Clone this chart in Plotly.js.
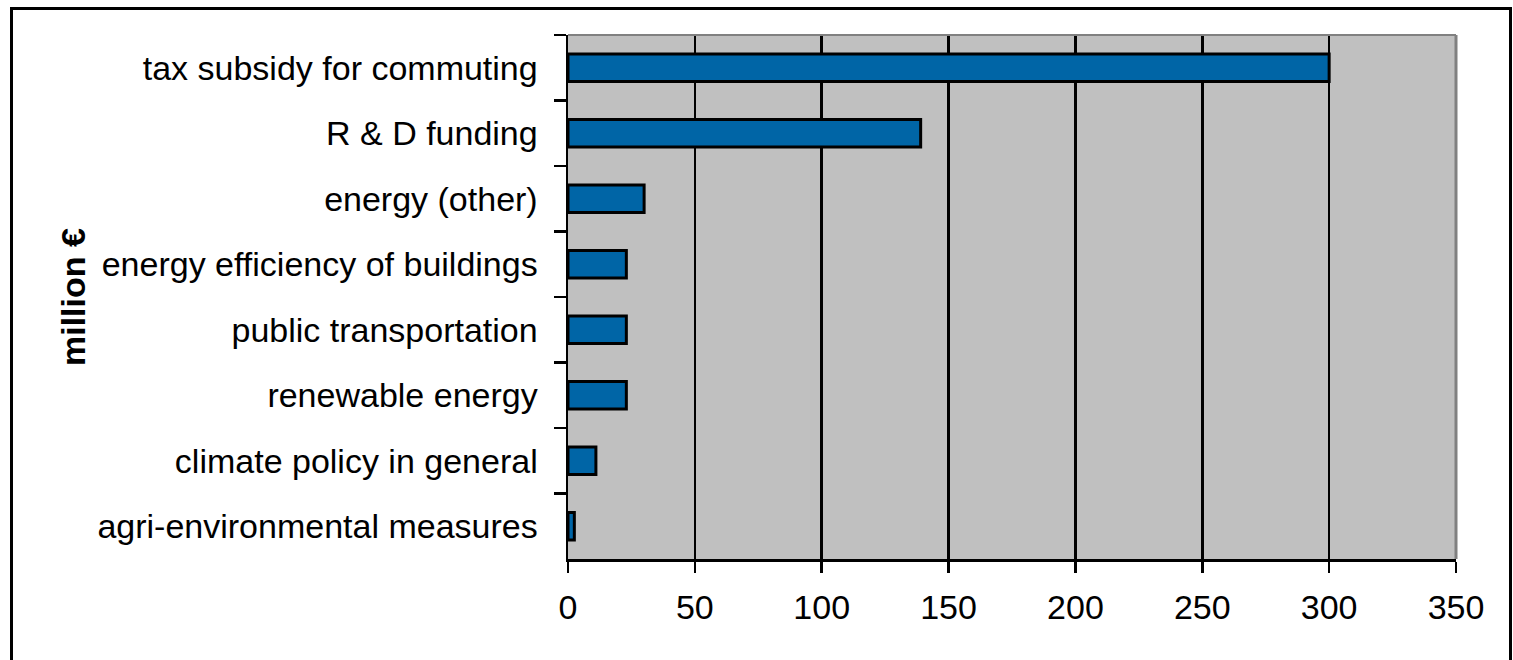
<!DOCTYPE html>
<html>
<head>
<meta charset="utf-8">
<script src="https://cdn.plot.ly/plotly-3.0.1.min.js"></script>
<style>
  html, body { margin: 0; padding: 0; background: #fff; }
  #wrap { position: relative; width: 1513px; height: 660px; overflow: hidden; }
  #chart { width: 1513px; height: 660px; }
  #frame { position: absolute; left: 10px; top: 7px; width: 1496px; height: 700px;
           border: 3px solid #000; pointer-events: none; }
</style>
</head>
<body>
<div id="wrap">
  <div id="chart"></div>
  <div id="frame"></div>
</div>
<script>
// Climate-related spending items, top to bottom
const categories = [
  "tax subsidy for commuting",
  "R & D funding",
  "energy (other)",
  "energy efficiency of buildings",
  "public transportation",
  "renewable energy",
  "climate policy in general",
  "agri-environmental measures"
];
// Amounts in million €
const amounts = [300, 139, 30, 23, 23, 23, 11, 2.5];
const xTicks = [0, 50, 100, 150, 200, 250, 300, 350];

const FONT = "Liberation Sans, Arial, sans-serif";
const SIZE = 34;

const trace = {
  type: "bar",
  orientation: "h",
  y: categories,
  x: amounts,
  marker: { color: "#0065A6", line: { color: "#000", width: 3 } },
  hoverinfo: "x+y"
};

const layout = {
  width: 1513,
  height: 660,
  margin: { l: 568, r: 57, t: 35, b: 101 },
  paper_bgcolor: "#fff",
  plot_bgcolor: "#C0C0C0",
  bargap: 0.58,
  showlegend: false,
  font: { family: FONT, color: "#000", size: SIZE },
  xaxis: {
    range: [0, 350],
    tickvals: xTicks,
    ticktext: xTicks.map(String),
    ticks: "outside",
    ticklen: 11,
    tickwidth: 2.5,
    tickcolor: "#000",
    showline: true,
    linecolor: "#000",
    linewidth: 2.5,
    showgrid: true,
    gridcolor: "#000",
    gridwidth: 2.5,
    zeroline: false,
    tickfont: { family: FONT, size: SIZE, color: "#000" },
    ticklabelstandoff: 6,
    fixedrange: true
  },
  yaxis: {
    type: "category",
    categoryorder: "array",
    categoryarray: categories,
    autorange: "reversed",
    tickson: "boundaries",
    ticks: "outside",
    ticklen: 12,
    tickwidth: 2.5,
    tickcolor: "#000",
    showline: true,
    linecolor: "#000",
    linewidth: 2.5,
    showgrid: false,
    zeroline: false,
    tickfont: { family: FONT, size: SIZE, color: "#000" },
    ticklabelstandoff: 21,
    fixedrange: true
  },
  shapes: [
    // light frame on the top and right edges of the plotting area
    { type: "line", xref: "paper", yref: "paper", x0: 0, x1: 1, y0: 1, y1: 1,
      line: { color: "#808080", width: 2 }, layer: "above" },
    { type: "line", xref: "paper", yref: "paper", x0: 1, x1: 1, y0: 0, y1: 1,
      line: { color: "#808080", width: 3 }, layer: "above" }
  ],
  annotations: [
    { text: "<b>million €</b>", xref: "paper", yref: "paper", x: 0, y: 0.5,
      xanchor: "center", yanchor: "middle", xshift: -495, textangle: -90,
      showarrow: false, font: { family: FONT, size: SIZE, color: "#000" } }
  ]
};

Plotly.newPlot("chart", [trace], layout, { displayModeBar: false, staticPlot: true });
</script>
</body>
</html>
